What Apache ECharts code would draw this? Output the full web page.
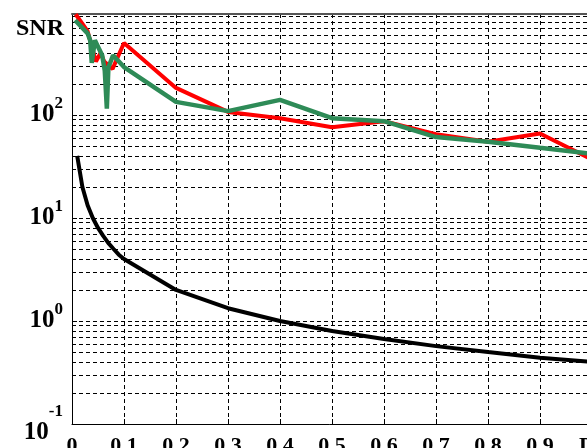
<!DOCTYPE html>
<html>
<head>
<meta charset="utf-8">
<script src="https://cdn.jsdelivr.net/npm/echarts@6/dist/echarts.min.js"></script>
<style>html,body{margin:0;padding:0;background:#fff}#c{width:587px;height:448px}</style>
</head>
<body>
<div id="c"></div>
<script>
// ---- data ----
const blackX = [0.01,0.02,0.03,0.04,0.05,0.06,0.07,0.08,0.09,0.1,0.2,0.3,0.4,0.5,0.6,0.7,0.8,0.9,1.0];
const blackY = [40,20,13.3,10,8,6.7,5.7,5,4.4,4,2,1.33,1.0,0.8,0.67,0.57,0.5,0.44,0.4];

const redX = [0.007,0.03,0.046,0.055,0.062,0.078,0.1,0.2,0.3,0.4,0.5,0.6,0.7,0.8,0.9,1.0];
const redY = [950,650,330,400,330,280,500,183,107,93,76,87,65,55,66,37];

const greenX = [0.006,0.03,0.035,0.038,0.044,0.05,0.058,0.063,0.067,0.07,0.079,0.1,0.2,0.3,0.4,0.5,0.6,0.7,0.8,0.9,1.0];
const greenY = [830,620,530,320,530,460,380,270,115,290,380,292,134,109,140,93,87,61,55,48,42];

const yDecades = [0.1,1,10,100];
const yGridValues = [0.2,0.3,0.4,0.5,0.6,0.7,0.8,0.9,1,2,3,4,5,6,7,8,9,10,20,30,40,50,60,70,80,90,100,200,300,400,500,600,700,800,900];
const xName = 'D';
const yName = 'SNR';

const pairs = (xs, ys) => xs.map((x, i) => [x, ys[i]]);
const FONT = "'Liberation Serif', 'Times New Roman', serif";

const chart = echarts.init(document.getElementById('c'), null, {renderer: 'canvas'});
chart.setOption({
  animation: false,
  backgroundColor: '#fff',
  grid: {left: 72, top: 14, right: -5, bottom: 24, containLabel: false, outerBoundsMode: 'none'},
  xAxis: [{
    type: 'value', min: 0, max: 1, interval: 0.1, position: 'bottom',
    axisLine: {show: true, onZero: false, lineStyle: {color: '#000', width: 1}},
    axisTick: {show: true, inside: true, length: 5, lineStyle: {color: '#000'}},
    splitLine: {show: true, lineStyle: {color: '#000', type: [4, 3], width: 1}},
    axisLabel: {
      margin: 11, color: '#000', fontFamily: FONT, fontWeight: 'bold', fontSize: 22,
      formatter: v => v > 0.95 ? '' : String(Math.round(v * 10) / 10)
    },
    name: xName, nameLocation: 'end', nameGap: -13,
    nameTextStyle: {color: '#000', fontFamily: FONT, fontWeight: 'bold', fontSize: 22, verticalAlign: 'top', align: 'left', padding: [11, 0, 0, 0]}
  }, {
    type: 'value', min: 0, max: 1, position: 'top',
    axisLine: {show: true, onZero: false, lineStyle: {color: '#555', width: 2}},
    axisTick: {show: false}, axisLabel: {show: false}, splitLine: {show: false}
  }],
  yAxis: {
    type: 'log', logBase: 10, min: 0.1, max: 955,
    axisLine: {show: true, onZero: false, lineStyle: {color: '#000', width: 1}},
    axisTick: {show: true, inside: true, length: 5, customValues: yDecades, lineStyle: {color: '#000'}},
    splitLine: {show: false},
    axisLabel: {
      customValues: yDecades, margin: 9, color: '#000',
      formatter: v => {
        const e = Math.round(Math.log10(v));
        return e === -1 ? '{sp| }{bl|10}{sl|-1}' : '{b|10}{s|' + e + '}';
      },
      rich: {
        b: {fontFamily: FONT, fontWeight: 'bold', fontSize: 25, lineHeight: 40, color: '#000'},
        s: {fontFamily: FONT, fontWeight: 'bold', fontSize: 17, lineHeight: 17, color: '#000', verticalAlign: 'top'},
        sp: {fontSize: 4, lineHeight: 42},
        bl: {fontFamily: FONT, fontWeight: 'bold', fontSize: 25, lineHeight: 24, color: '#000', verticalAlign: 'bottom'},
        sl: {fontFamily: FONT, fontWeight: 'bold', fontSize: 17, lineHeight: 28, color: '#000', verticalAlign: 'top'}
      }
    },
    name: yName, nameLocation: 'end', nameGap: -3,
    nameTextStyle: {color: '#000', fontFamily: FONT, fontWeight: 'bold', fontSize: 24, align: 'right', verticalAlign: 'top', padding: [0, 8, 0, 0]}
  },
  series: [{
    type: 'line', data: [], silent: true, z: 1,
    markLine: {
      silent: true, symbol: ['none', 'none'], label: {show: false}, animation: false, z: 1,
      lineStyle: {color: '#000', type: [4, 3], width: 1},
      emphasis: {disabled: true},
      data: yGridValues.map(v => ({yAxis: v}))
    }
  }, {
    type: 'line', data: pairs(blackX, blackY), showSymbol: false, z: 3,
    lineStyle: {color: '#000', width: 4}
  }, {
    type: 'line', data: pairs(redX, redY), showSymbol: false, z: 4,
    lineStyle: {color: '#ff0000', width: 4}
  }, {
    type: 'line', data: pairs(greenX, greenY), showSymbol: false, z: 5,
    lineStyle: {color: '#2e8b57', width: 4.5}
  }]
});
</script>
</body>
</html>
